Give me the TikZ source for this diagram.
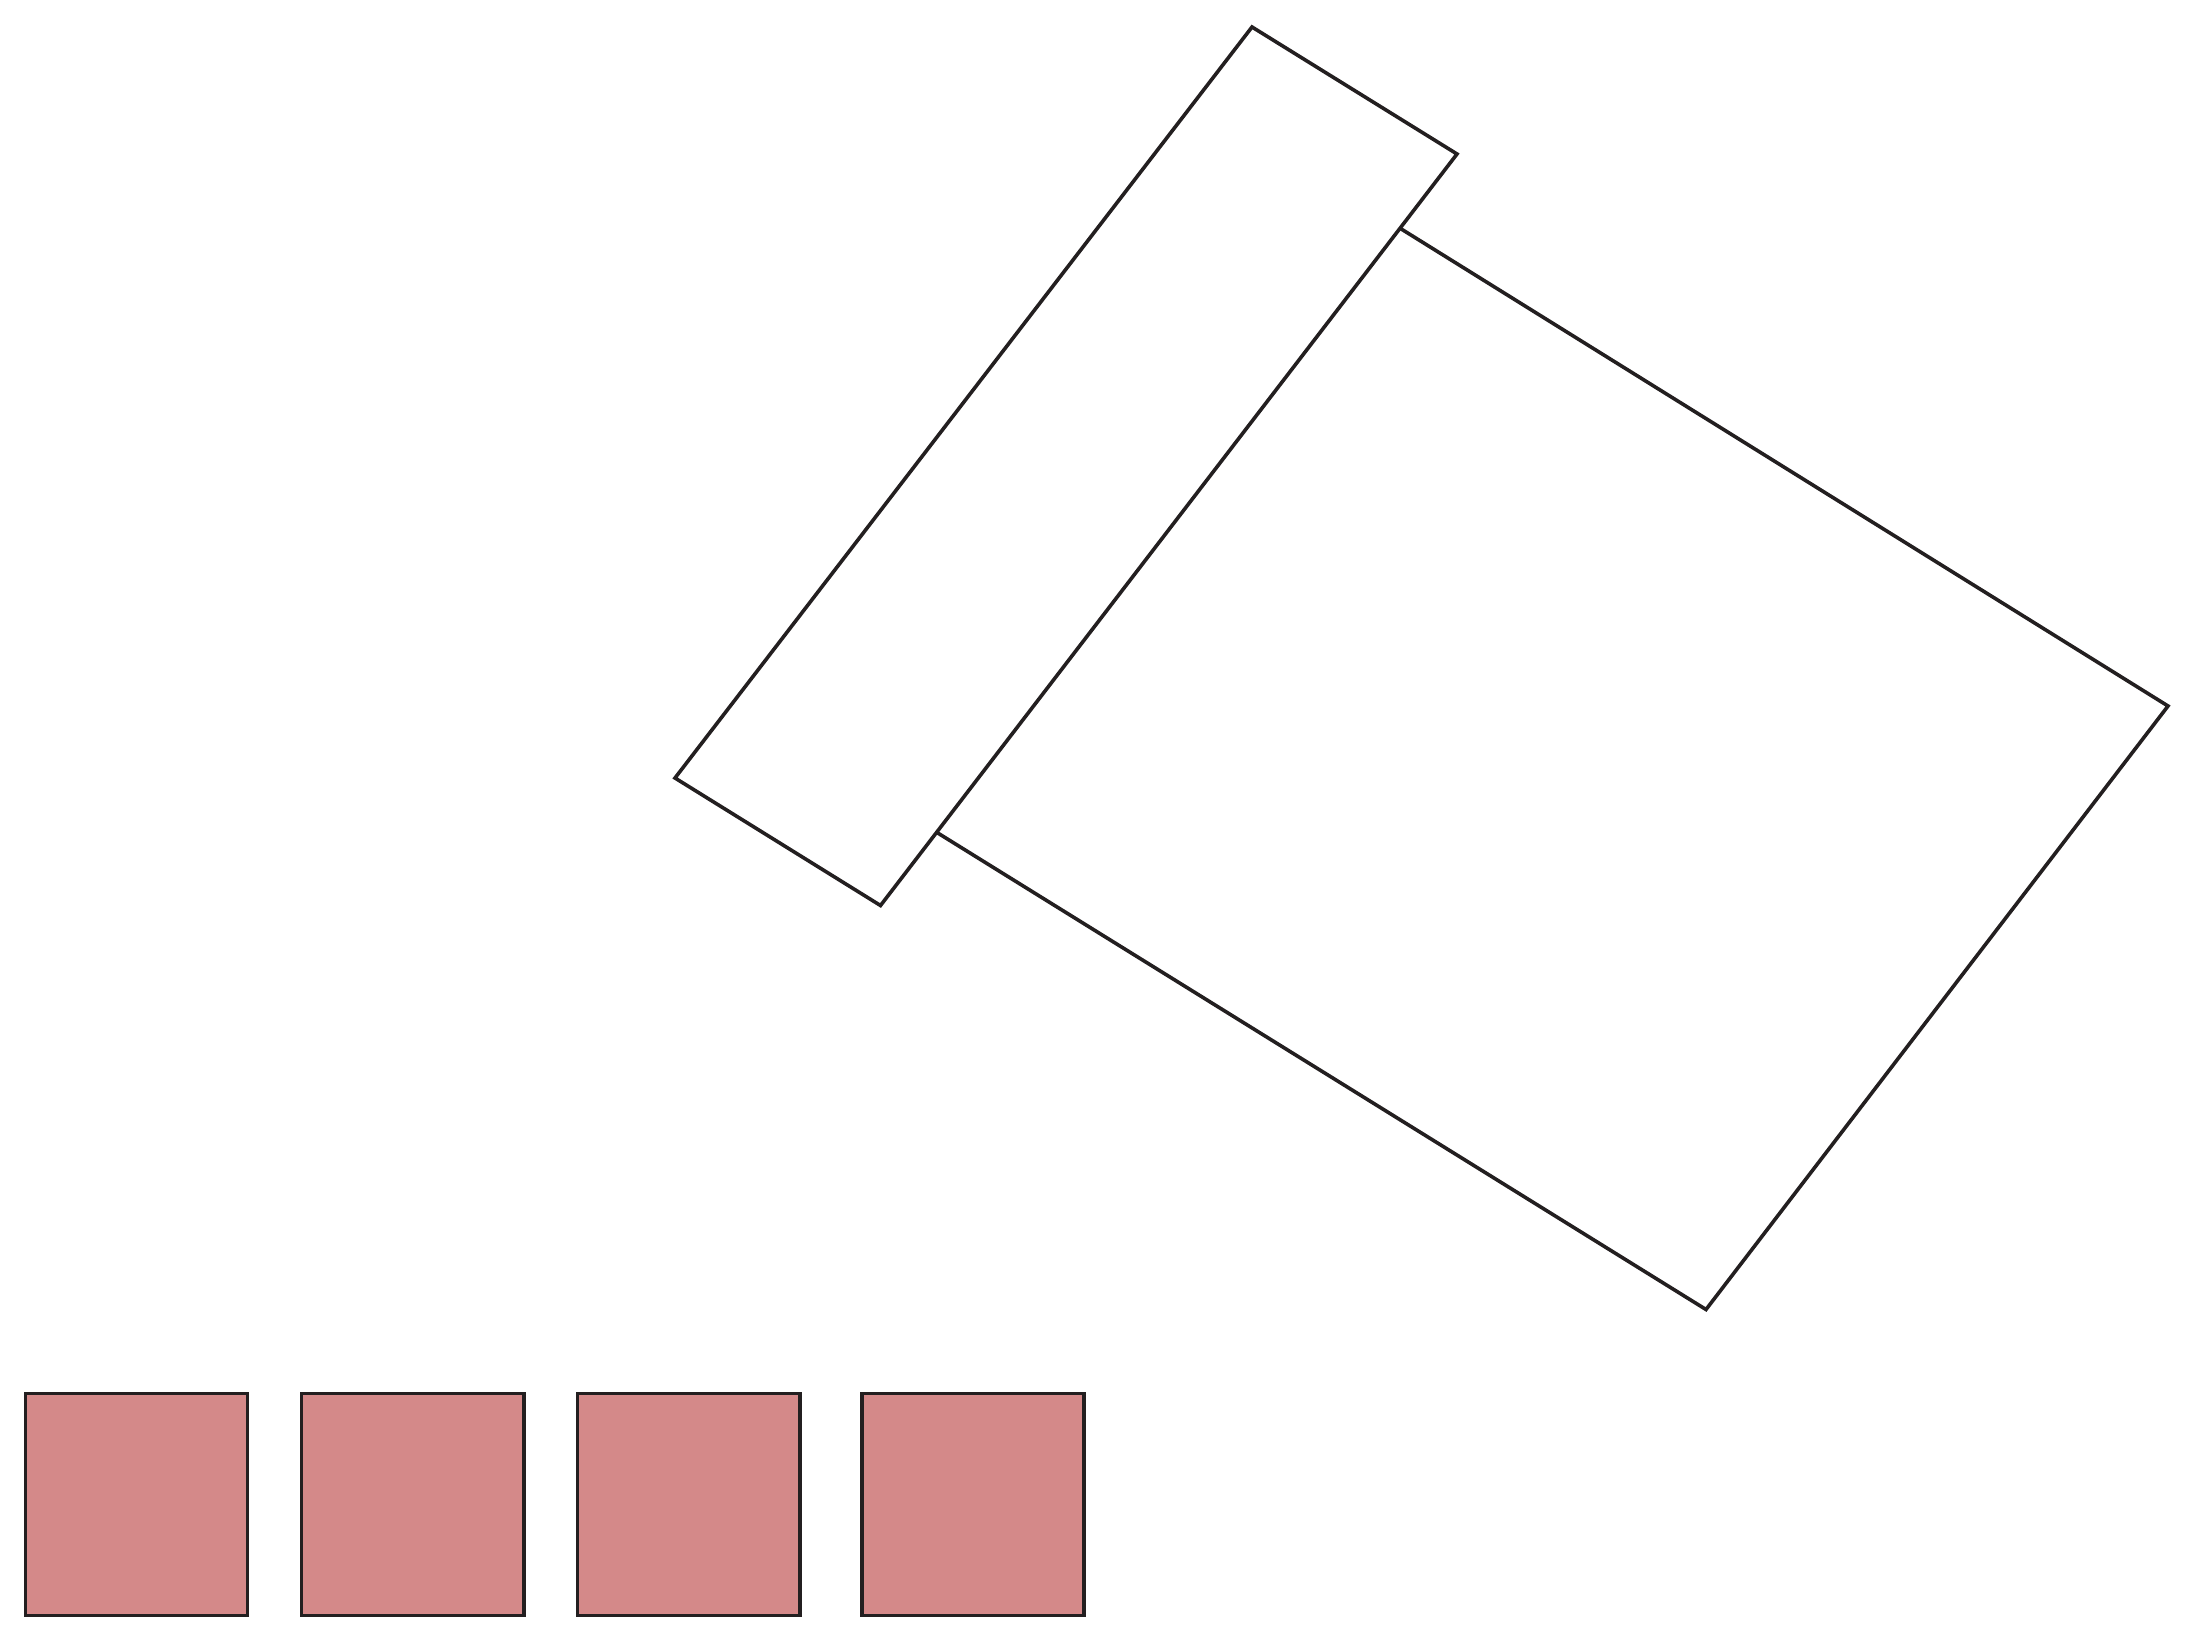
\documentclass[tikz,border=0pt]{standalone}
\usetikzlibrary{calc}
\definecolor{inkline}{RGB}{35,31,32}
\definecolor{rosefill}{RGB}{212,137,137}
\tikzset{
  outline/.style={draw=inkline, line width=3.6pt, line join=miter},
  tile/.style={outline, fill=rosefill}
}
\begin{document}
\begin{tikzpicture}[x=1pt,y=-1pt]
\useasboundingbox (0,0) rectangle (2195,1641);
% thin rectangle
\coordinate (T) at (1252,27);
\coordinate (R) at (1457,154);
\coordinate (B) at (880.5,905.5);
\coordinate (L) at (675,778);
\draw[outline] (T) -- (R) -- (B) -- (L) -- cycle;
% large rectangle sharing an edge with the thin one
\coordinate (J1) at ($(R)!0.0988!(B)$);
\coordinate (J2) at ($(R)!0.9026!(B)$);
\coordinate (RC) at (2168,706);
\coordinate (BC) at (1706,1309.5);
\draw[outline] (J1) -- (RC) -- (BC) -- (J2);
% four squares
\foreach \x [count=\i] in {25.3,301.5,577.5,862} {
  \draw[tile] (\x,1393.3) rectangle ++(222.2,222.2);
}
\end{tikzpicture}
\end{document}
